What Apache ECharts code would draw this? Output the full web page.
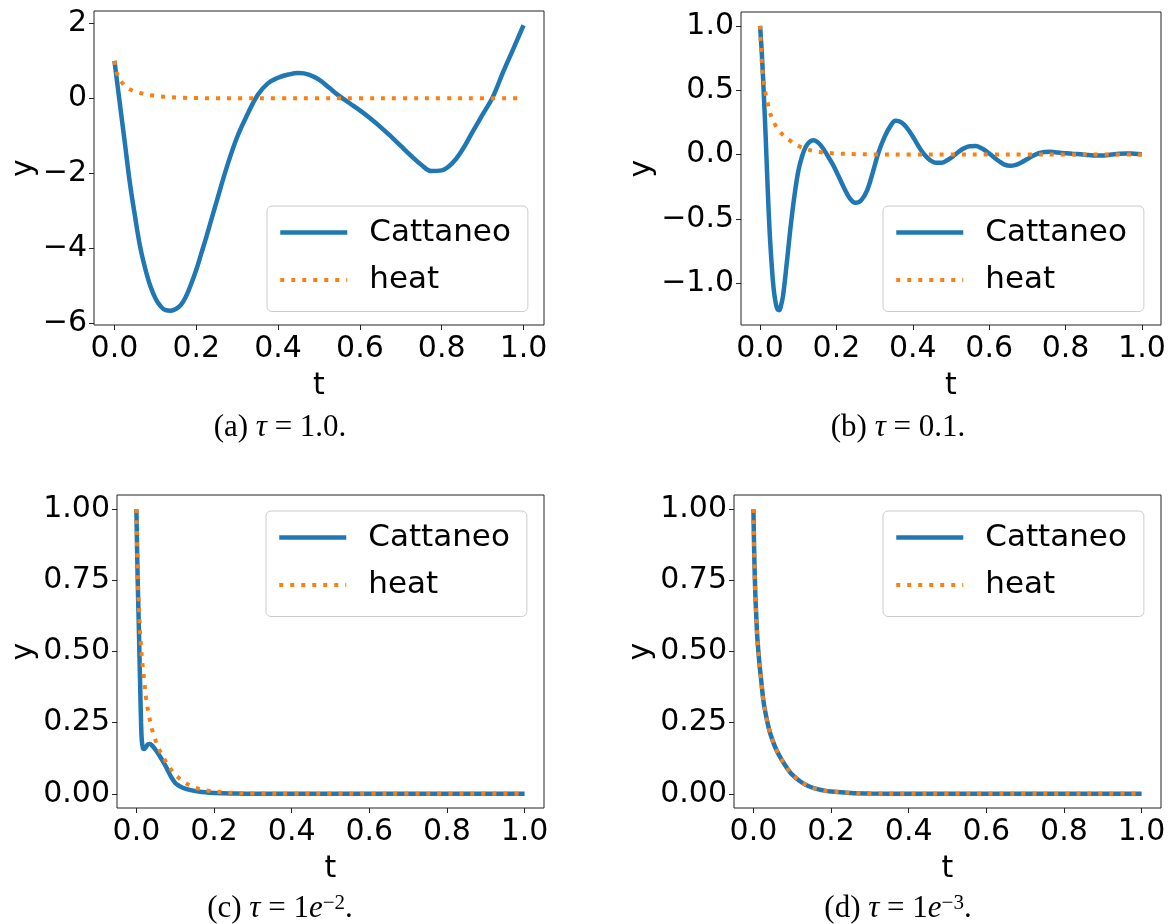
<!DOCTYPE html>
<html>
<head>
<meta charset="utf-8">
<script src="https://cdn.jsdelivr.net/npm/echarts@6/dist/echarts.min.js"></script>
<style>
  html, body { margin: 0; padding: 0; background: #fff; }
  #chart { width: 1175px; height: 924px; }
</style>
</head>
<body>
<div id="chart"></div>
<script>
// Cattaneo vs. heat equation solution y(t) for four relaxation times tau.

// Heat-equation solution (independent of tau)
const tHeat = [0, 0.0025, 0.005, 0.0075, 0.01, 0.015, 0.02, 0.025, 0.03, 0.04, 0.05, 0.06, 0.07,
  0.08, 0.09, 0.1, 0.12, 0.14, 0.16, 0.18, 0.2, 0.25, 0.3, 0.4, 0.5, 0.6, 0.7, 0.8, 0.9, 1.0];
const heat = [1.0, 0.82, 0.70, 0.62, 0.55, 0.465, 0.40, 0.335, 0.292, 0.228, 0.185, 0.152, 0.126,
  0.104, 0.084, 0.067, 0.044, 0.028, 0.018, 0.012, 0.008, 0.003, 0.001, 0, 0, 0, 0, 0, 0, 0];

// (a) tau = 1.0
const tA = [0, 0.0125, 0.025, 0.0375, 0.05, 0.0625, 0.075, 0.0875, 0.1, 0.1125, 0.125, 0.1375,
  0.15, 0.1625, 0.175, 0.1875, 0.2, 0.2125, 0.225, 0.25, 0.275, 0.3, 0.325, 0.35, 0.375, 0.4,
  0.425, 0.45, 0.475, 0.5, 0.525, 0.55, 0.575, 0.6, 0.625, 0.65, 0.675, 0.7, 0.725, 0.75, 0.775,
  0.8, 0.825, 0.85, 0.875, 0.9, 0.925, 0.95, 0.975, 1.0];
const cattaneoA = [1.0, -0.08, -1.15, -2.24, -3.13, -3.94, -4.53, -5.0, -5.33, -5.54, -5.65, -5.665,
  -5.62, -5.51, -5.28, -4.95, -4.57, -4.13, -3.68, -2.74, -1.82, -1.03, -0.43, 0.09, 0.40, 0.55,
  0.635, 0.675, 0.635, 0.50, 0.28, 0.06, -0.13, -0.32, -0.53, -0.76, -1.01, -1.27, -1.53, -1.77, -1.94,
  -1.92, -1.74, -1.38, -0.90, -0.43, 0.04, 0.70, 1.32, 1.95];

// (b) tau = 0.1
const tB = [0, 0.005, 0.01, 0.015, 0.02, 0.025, 0.03, 0.035, 0.04, 0.045, 0.05, 0.055, 0.06, 0.07,
  0.08, 0.09, 0.1, 0.11, 0.12, 0.13, 0.14, 0.15, 0.16, 0.175, 0.19, 0.205, 0.22, 0.235, 0.25, 0.265,
  0.28, 0.295, 0.31, 0.325, 0.34, 0.355, 0.37, 0.385, 0.4, 0.415, 0.43, 0.445, 0.46, 0.475, 0.49,
  0.505, 0.52, 0.535, 0.55, 0.565, 0.58, 0.595, 0.61, 0.625, 0.64, 0.655, 0.67, 0.685, 0.7, 0.715,
  0.73, 0.745, 0.76, 0.78, 0.8, 0.82, 0.84, 0.86, 0.88, 0.9, 0.92, 0.94, 0.96, 0.98, 1.0];
const cattaneoB = [1.0, 0.76, 0.45, 0.11, -0.27, -0.60, -0.84, -1.03, -1.14, -1.20, -1.21, -1.17,
  -1.10, -0.84, -0.56, -0.32, -0.13, -0.013, 0.063, 0.10, 0.111, 0.097, 0.067, 0.0, -0.075, -0.165,
  -0.26, -0.34, -0.375, -0.355, -0.28, -0.14, 0.015, 0.13, 0.215, 0.262, 0.25, 0.205, 0.14, 0.065,
  0.0, -0.043, -0.063, -0.063, -0.045, -0.015, 0.022, 0.05, 0.065, 0.066, 0.048, 0.02, -0.015,
  -0.05, -0.078, -0.088, -0.08, -0.06, -0.035, -0.01, 0.01, 0.02, 0.021, 0.016, 0.01, 0.005,
  0.002, -0.004, -0.008, -0.007, 0.0, 0.007, 0.009, 0.006, 0.002];

// (c) tau = 1e-2
const tC = [0, 0.002, 0.004, 0.006, 0.008, 0.01, 0.012, 0.014, 0.017, 0.02, 0.025, 0.03, 0.035,
  0.04, 0.05, 0.06, 0.07, 0.08, 0.09, 0.1, 0.11, 0.12, 0.14, 0.16, 0.18, 0.2, 0.25, 0.3, 0.4, 0.5,
  0.6, 0.7, 0.8, 0.9, 1.0];
const cattaneoC = [1.0, 0.84, 0.71, 0.60, 0.48, 0.36, 0.25, 0.185, 0.16, 0.157, 0.165, 0.174, 0.175,
  0.17, 0.153, 0.133, 0.11, 0.085, 0.058, 0.038, 0.028, 0.021, 0.013, 0.008, 0.005, 0.003, 0.001,
  0, 0, 0, 0, 0, 0, 0, 0];

// (d) tau = 1e-3: Cattaneo follows the heat solution on the same time grid
const cattaneoD = [1.0, 0.82, 0.70, 0.62, 0.55, 0.465, 0.40, 0.335, 0.292, 0.228, 0.185, 0.152,
  0.126, 0.104, 0.084, 0.067, 0.044, 0.028, 0.018, 0.012, 0.008, 0.003, 0.001, 0, 0, 0, 0, 0, 0, 0];

// Tick positions
const xTicks = [0, 0.2, 0.4, 0.6, 0.8, 1.0];
const yTicksA = [-6, -4, -2, 0, 2];
const yTicksB = [-1.0, -0.5, 0.0, 0.5, 1.0];
const yTicksCD = [0, 0.25, 0.5, 0.75, 1.0];

const seriesNames = ['Cattaneo', 'heat'];
const captionLetters = ['(a)', '(b)', '(c)', '(d)'];
const tauText = ['1.0.', '0.1.', ['1', '−2'], ['1', '−3']];

const BLUE = '#1f77b4';
const ORANGE = '#ff7f0e';
const SANS = 'DejaVu Sans';
const SERIF = 'Liberation Serif';

const blueLine = { color: BLUE, width: 4.5 };
const orangeLine = { color: ORANGE, width: 4, type: [4, 7], cap: 'butt' };

const zip = (xs, ys) => xs.map((x, i) => [x, ys[i]]);
const fmt = (v, d) => (v < 0 ? '\u2212' : '') + Math.abs(v).toFixed(d);

const panels = [
  { grid: { left: 94, top: 11, width: 450, height: 314 }, yMin: -6.045, yMax: 2.33,
    yTicks: yTicksA, yDigits: 0, t: tA, c: cattaneoA, legend: { left: 267, top: 206 },
    cap: { x: 280, y: 428 }, yNameGap: 54 },
  { grid: { left: 741, top: 12, width: 420, height: 313 }, yMin: -1.325, yMax: 1.108,
    yTicks: yTicksB, yDigits: 1, t: tB, c: cattaneoB, legend: { left: 883, top: 206 },
    cap: { x: 898, y: 428 }, yNameGap: 83 },
  { grid: { left: 117, top: 495, width: 427, height: 313 }, yMin: -0.05, yMax: 1.05,
    yTicks: yTicksCD, yDigits: 2, t: tC, c: cattaneoC, legend: { left: 266, top: 511 },
    cap: { x: 280, y: 909 }, yNameGap: 74 },
  { grid: { left: 734, top: 495, width: 427, height: 313 }, yMin: -0.05, yMax: 1.05,
    yTicks: yTicksCD, yDigits: 2, t: tHeat, c: cattaneoD, legend: { left: 883, top: 511 },
    cap: { x: 898, y: 909 }, yNameGap: 78 }
];

const tickStyle = { color: '#222', width: 1 };
const labelFont = { fontFamily: SANS, fontSize: 30, color: '#000', lineHeight: 30 };

const option = {
  backgroundColor: '#fff',
  animation: false,
  grid: panels.map(p => Object.assign({ show: true, borderColor: '#222', borderWidth: 1,
    backgroundColor: 'transparent', containLabel: false }, p.grid)),
  xAxis: panels.map((p, i) => ({
    type: 'value', gridIndex: i, min: -0.05, max: 1.05, position: 'bottom',
    name: 't', nameLocation: 'middle', nameGap: 46, nameTextStyle: labelFont,
    axisLine: { show: false, onZero: false },
    splitLine: { show: false },
    axisTick: { show: true, customValues: xTicks, length: 5, lineStyle: tickStyle },
    axisLabel: Object.assign({ show: true, customValues: xTicks, margin: 9,
      formatter: v => fmt(v, 1) }, labelFont)
  })),
  yAxis: panels.map((p, i) => ({
    type: 'value', gridIndex: i, min: p.yMin, max: p.yMax, position: 'left',
    name: 'y', nameLocation: 'middle', nameGap: p.yNameGap, nameTextStyle: labelFont,
    axisLine: { show: false, onZero: false },
    splitLine: { show: false },
    axisTick: { show: true, customValues: p.yTicks, length: 5, lineStyle: tickStyle },
    axisLabel: Object.assign({ show: true, customValues: p.yTicks, margin: 7,
      formatter: v => fmt(v, p.yDigits) }, labelFont)
  })),
  legend: panels.map(p => ({
    data: [
      { name: seriesNames[0], itemStyle: { opacity: 0 }, lineStyle: blueLine },
      { name: seriesNames[1], itemStyle: { opacity: 0 }, lineStyle: orangeLine }
    ],
    orient: 'vertical', left: p.legend.left, top: p.legend.top,
    itemWidth: 67, itemHeight: 30, itemGap: 16.5, padding: [11, 17, 16, 11],
    backgroundColor: 'rgba(255,255,255,0.8)', borderColor: '#cccccc', borderWidth: 1, borderRadius: 5,
    selectedMode: false,
    textStyle: { fontFamily: SANS, fontSize: 31, color: '#000', lineHeight: 30, padding: [0, 0, 0, 17] }
  })),
  series: panels.flatMap((p, i) => [
    { name: seriesNames[0], type: 'line', xAxisIndex: i, yAxisIndex: i, data: zip(p.t, p.c),
      symbol: 'none', smooth: 0.4, lineStyle: blueLine, itemStyle: { color: BLUE }, z: 2 },
    { name: seriesNames[1], type: 'line', xAxisIndex: i, yAxisIndex: i, data: zip(tHeat, heat),
      symbol: 'none', smooth: 0.35, lineStyle: orangeLine, itemStyle: { color: ORANGE }, z: 3 }
  ]),
  graphic: panels.map((p, i) => {
    const tau = tauText[i];
    const text = Array.isArray(tau)
      ? `{n|${captionLetters[i]} }{i|τ}{n| = ${tau[0]}}{i|e}{s|${tau[1]}}{n|.}`
      : `{n|${captionLetters[i]} }{i|τ}{n| = ${tau}}`;
    return {
      type: 'text', x: p.cap.x, y: p.cap.y,
      style: {
        text, align: 'center', verticalAlign: 'middle', fill: '#000',
        rich: {
          n: { fontFamily: SERIF, fontSize: 31, lineHeight: 32, fill: '#000' },
          i: { fontFamily: SERIF, fontSize: 31, lineHeight: 32, fontStyle: 'italic', fill: '#000' },
          s: { fontFamily: SERIF, fontSize: 21, lineHeight: 32, fill: '#000', verticalAlign: 'top', padding: [0, 0, 10, 0] }
        }
      }
    };
  })
};

const chart = echarts.init(document.getElementById('chart'), null, { renderer: 'canvas' });
chart.setOption(option);
</script>
</body>
</html>
